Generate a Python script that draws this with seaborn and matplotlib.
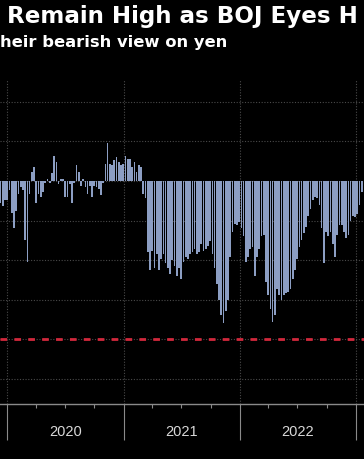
import numpy as np
import pandas as pd
import matplotlib
matplotlib.use("Agg")
import matplotlib.pyplot as plt
import matplotlib.dates as mdates
from matplotlib.transforms import blended_transform_factory
import seaborn as sns

# Weekly net yen positions (thousand contracts)
start_date = "2019-12-12"
net_positions = [
    -14, -16, -12, -12, -6, -20, -30, -19, -8, -4,
    -6, -37, -51, -8, 6, 9, -14, -8, -10, -7,
    -1, 1, -1, 5, 16, 12, -2, 1, 1, -10,
    -10, -2, -14, -1, 10, 6, -3, 1, -4, -8,
    -3, -10, -3, -4, -5, -9, -1, 11, 24, 11,
    10, 13, 15, 12, 10, 11, 16, 14, 14, 9,
    12, 6, 10, 9, -8, -11, -45, -56, -44, -55,
    -46, -56, -49, -46, -52, -55, -59, -50, -54, -60,
    -55, -62, -51, -48, -49, -46, -45, -43, -46, -45,
    -40, -44, -43, -41, -38, -46, -55, -65, -75, -85,
    -90, -82, -75, -48, -32, -27, -28, -26, -30, -35,
    -51, -48, -43, -42, -60, -48, -43, -35, -34, -64,
    -72, -81, -89, -85, -68, -72, -75, -72, -71, -70,
    -68, -62, -56, -49, -42, -37, -33, -29, -22, -18,
    -12, -10, -11, -15, -30, -52, -32, -35, -32, -40,
    -48, -34, -28, -28, -32, -36, -34, -25, -22, -23,
    -21, -15, -7,
]
threshold = -100
year_labels = ["2020", "2021", "2022"]
title_text = "Remain High as BOJ Eyes H"
subtitle_text = "heir bearish view on yen"

dates = pd.date_range(start_date, periods=len(net_positions), freq="7D")
df = pd.DataFrame({"x": mdates.date2num(dates), "value": net_positions})

sns.set_theme(style="dark")
plt.rcParams["font.family"] = ["DejaVu Sans"]

fig = plt.figure(figsize=(3.64, 4.60), dpi=100, facecolor="black")
ax = fig.add_axes([0.0, 1 - 405 / 460, 1.0, (405 - 80) / 460])
ax.set_facecolor("black")

sns.barplot(data=df, x="x", y="value", native_scale=True, width=0.76,
            color="#8c9ec3", saturation=1, edgecolor="none", linewidth=0, ax=ax)

ax.axhline(threshold, color="#d2283c", lw=2.0, ls=(0, (2.4, 2.6)), zorder=3)

ax.set_xlim(mdates.date2num(pd.Timestamp("2019-12-10")),
            mdates.date2num(pd.Timestamp("2023-01-26")))
ax.set_ylim(-141, 64.5)

ax.set_yticks(np.arange(-125, 51, 25))
ax.tick_params(axis="y", left=False, labelleft=False)
ax.grid(True, axis="y", color="#4a4a4a", lw=0.8, ls=(0, (1, 1.5)))

ax.xaxis.set_major_locator(mdates.YearLocator())
ax.xaxis.set_minor_locator(mdates.MonthLocator(bymonth=[4, 7, 10]))
ax.xaxis.set_major_formatter(plt.NullFormatter())
ax.grid(True, axis="x", which="major", color="#4a4a4a", lw=0.8, ls=(0, (1, 1.5)))
ax.tick_params(axis="x", which="major", length=26, width=0.8, color="#8a8a8a",
               direction="out", labelbottom=False, bottom=True)
ax.tick_params(axis="x", which="minor", length=3, width=0.8, color="#8a8a8a",
               direction="out", bottom=True)
ax.set_xlabel("")
ax.set_ylabel("")

for side in ["top", "right", "left"]:
    ax.spines[side].set_visible(False)
ax.spines["bottom"].set_visible(True)
ax.spines["bottom"].set_color("#8a8a8a")
ax.spines["bottom"].set_linewidth(1.0)

trans = blended_transform_factory(ax.transData, ax.transAxes)
for lab in year_labels:
    xm = mdates.date2num(pd.Timestamp(f"{lab}-07-02"))
    ax.text(xm, -27 / 325, lab, transform=trans, ha="center", va="center",
            color="#d8d8d8", fontsize=10.5, family=["Liberation Sans", "DejaVu Sans"])

fig.text(7 / 364, 1 - 17 / 460, title_text, color="white", fontsize=16.6,
         fontweight="bold", ha="left", va="center")
fig.text(0 / 364, 1 - 42 / 460, subtitle_text, color="white", fontsize=11.8,
         fontweight="bold", ha="left", va="center")

fig.savefig("out.png", dpi=100, facecolor="black")
